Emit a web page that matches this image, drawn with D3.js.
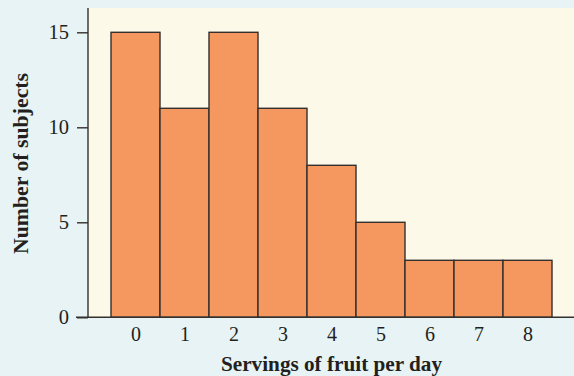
<!DOCTYPE html>
<html>
<head>
<meta charset="utf-8">
<script src="https://cdn.jsdelivr.net/npm/d3@7"></script>
<style>
  html, body { margin: 0; padding: 0; background: #e7f3f4; }
  svg { display: block; }
  text { font-family: "Liberation Serif", "Times New Roman", serif; fill: #231f20; }
</style>
</head>
<body>
<svg id="chart" width="574" height="376"></svg>
<script>
// Servings of fruit per day (bins) and number of subjects in each
const servings = [0, 1, 2, 3, 4, 5, 6, 7, 8];
const subjects = [15, 11, 15, 11, 8, 5, 3, 3, 3];
const yTicks = [0, 5, 10, 15];

const W = 574, H = 376;
const plot = { left: 88, top: 8, right: 574, bottom: 317.3 };

const svg = d3.select("#chart");
svg.append("rect").attr("width", W).attr("height", H).attr("fill", "#e7f3f4");

const x = d3.scaleLinear().domain([-0.5, 8.5]).range([111, 552]);
const y = d3.scaleLinear().domain([0, 15]).range([plot.bottom, 32.3]);

// cream plotting panel
svg.append("rect")
  .attr("x", plot.left).attr("y", plot.top)
  .attr("width", plot.right - plot.left)
  .attr("height", plot.bottom - plot.top)
  .attr("fill", "#fdf9e8");

// histogram bars
svg.append("g").selectAll("rect")
  .data(servings)
  .join("rect")
  .attr("x", d => x(d - 0.5))
  .attr("width", d => x(d + 0.5) - x(d - 0.5))
  .attr("y", (d, i) => y(subjects[i]))
  .attr("height", (d, i) => y(0) - y(subjects[i]))
  .attr("fill", "#f4985f")
  .attr("stroke", "#33302e")
  .attr("stroke-width", 1.4);

// y axis
const yAxis = svg.append("g")
  .attr("transform", `translate(${plot.left},0)`)
  .call(d3.axisLeft(y).tickValues(yTicks).tickSize(11).tickPadding(8).tickFormat(d3.format("d")));
yAxis.select(".domain").remove();
yAxis.selectAll("line").attr("stroke", "#33302e").attr("stroke-width", 1.4);
yAxis.selectAll("text").attr("font-size", 20.5).attr("fill", "#231f20");
svg.append("line")
  .attr("x1", plot.left).attr("x2", plot.left)
  .attr("y1", plot.top).attr("y2", plot.bottom)
  .attr("stroke", "#33302e").attr("stroke-width", 1.4);

// x axis
const xAxis = svg.append("g")
  .attr("transform", `translate(0,${plot.bottom})`)
  .call(d3.axisBottom(x).tickValues(servings).tickSize(0).tickPadding(9.5).tickFormat(d3.format("d")));
xAxis.select(".domain").remove();
xAxis.selectAll("text").attr("font-size", 20).attr("fill", "#231f20");
svg.append("line")
  .attr("x1", 76).attr("x2", plot.right)
  .attr("y1", plot.bottom).attr("y2", plot.bottom)
  .attr("stroke", "#33302e").attr("stroke-width", 1.4);

// axis titles
svg.append("text")
  .attr("x", 331.5).attr("y", 371)
  .attr("text-anchor", "middle")
  .attr("font-size", 21).attr("font-weight", "bold")
  .attr("textLength", 221).attr("lengthAdjust", "spacingAndGlyphs")
  .text("Servings of fruit per day");

svg.append("text")
  .attr("transform", "translate(28,163.5) rotate(-90)")
  .attr("text-anchor", "middle")
  .attr("font-size", 21.5).attr("font-weight", "bold")
  .attr("textLength", 181).attr("lengthAdjust", "spacingAndGlyphs")
  .text("Number of subjects");
</script>
</body>
</html>
